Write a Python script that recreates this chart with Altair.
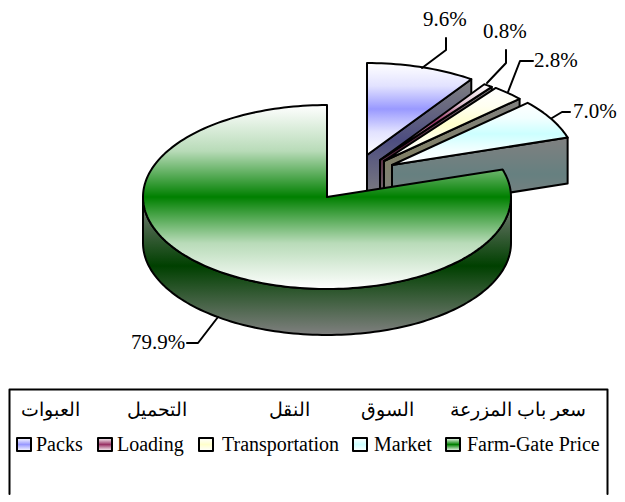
import math
import altair as alt
import pandas as pd

categories = ["Packs", "Loading", "Transportation", "Market", "Farm-Gate Price"]
arabic = ["العبوات", "التحميل", "النقل", "السوق", "سعر باب المزرعة"]
shares = [9.6, 0.8, 2.8, 7.0, 79.9]
colors = ["#9999FF", "#993366", "#FFFFCC", "#CCFFFF", "#008000"]
darks = ["#4D4D80", "#4D1933", "#808066", "#668080", "#004000"]

# Layout of the drawing, in page pixels
CX, CY, RX, RY, DEPTH = 327, 197, 184, 92, 46
apexes = [(367, 155), (380, 160), (384, 161), (392, 165), (CX, CY)]
leaders = [
    [(422, 68), (446, 50), (446, 38)],
    [(487, 83), (506, 63), (506, 50)],
    [(508, 92), (520, 61), (533, 61)],
    [(552, 118), (562, 112), (570, 112)],
    [(218, 317), (198, 343), (187, 343)],
]
label_pos = [(423, 26), (483, 38), (534, 67), (573, 118), (131, 349)]
legend_sym_x = [17, 98, 199, 353, 446]
legend_txt_x = [36, 117, 222, 374, 467]
arabic_x = [50, 157, 289, 387, 518]

W, H = 609, 486
FONT = "Liberation Serif"
xs = alt.Scale(domain=[8, 8 + W], nice=False, zero=False)
ys = alt.Scale(domain=[8 + H, 8], nice=False, zero=False)


def mix(edge, mid, t):
    e = [int(edge[k:k + 2], 16) for k in (1, 3, 5)]
    m = [int(mid[k:k + 2], 16) for k in (1, 3, 5)]
    return "#%02X%02X%02X" % tuple(round(a + (b - a) * t) for a, b in zip(e, m))


def grad(edge, mid, t=0.5):
    q = mix(edge, mid, t)
    return alt.LinearGradient(
        gradient="linear", x1=0, y1=0, x2=0, y2=1,
        stops=[alt.GradientStop(offset=0, color=edge),
               alt.GradientStop(offset=0.25, color=q),
               alt.GradientStop(offset=0.5, color=mid),
               alt.GradientStop(offset=0.75, color=q),
               alt.GradientStop(offset=1, color=edge)])


def rim(apex, deg, dy=0):
    a = math.radians(deg)
    return (apex[0] + RX * math.sin(a), apex[1] - RY * math.cos(a) + dy)


def frame(points):
    return pd.DataFrame([{"x": p[0], "y": p[1], "o": i} for i, p in enumerate(points)])


def poly(points, fill=None, sw=2):
    kw = {"fill": fill} if fill is not None else {}
    return alt.Chart(frame(points)).mark_line(
        stroke="black", strokeWidth=sw, strokeJoin="round", strokeCap="round", **kw
    ).encode(
        x=alt.X("x:Q", scale=xs, axis=None),
        y=alt.Y("y:Q", scale=ys, axis=None),
        order="o:Q",
    )


total = sum(shares)
layers = []
start = 0.0
for i, v in enumerate(shares):
    end = start + 360 * v / total
    ap = apexes[i]
    n = max(3, int((end - start) / 1.5))
    arc = [rim(ap, start + (end - start) * k / n) for k in range(n + 1)]
    if i < 4:
        e = rim(ap, end)
        side = [ap, e, (e[0], e[1] + DEPTH), (ap[0], ap[1] + DEPTH), ap]
    else:
        front = [rim(ap, 90 + 180 * k / 120) for k in range(121)]
        side = front + [(p[0], p[1] + DEPTH) for p in reversed(front)] + [front[0]]
    layers.append(poly(side, grad("#808080", darks[i])))
    layers.append(poly([ap] + arc + [ap], grad("#FFFFFF", colors[i], 0.28)))
    start = end

for pts in leaders:
    layers.append(poly(pts))

labels = pd.DataFrame({
    "t": [f"{v:.1f}%" for v in shares],
    "x": [p[0] for p in label_pos],
    "y": [p[1] for p in label_pos],
})
layers.append(alt.Chart(labels).mark_text(
    font=FONT, fontSize=21, align="left", baseline="alphabetic", color="black"
).encode(x=alt.X("x:Q", scale=xs, axis=None), y=alt.Y("y:Q", scale=ys, axis=None), text="t:N"))

# legend box (runs off the bottom of the picture)
layers.append(poly([(9.5, 8 + H), (9.5, 389.5), (607.5, 389.5), (607.5, 8 + H)]))

arabic_df = pd.DataFrame({"t": arabic, "x": arabic_x, "y": [416] * 5})
layers.append(alt.Chart(arabic_df).mark_text(
    font=FONT, fontSize=19, align="center", baseline="alphabetic", color="black"
).encode(x=alt.X("x:Q", scale=xs, axis=None), y=alt.Y("y:Q", scale=ys, axis=None), text="t:N"))

legend_df = pd.DataFrame({"t": categories, "x": legend_txt_x, "y": [451] * 5})
layers.append(alt.Chart(legend_df).mark_text(
    font=FONT, fontSize=20, align="left", baseline="alphabetic", color="black"
).encode(x=alt.X("x:Q", scale=xs, axis=None), y=alt.Y("y:Q", scale=ys, axis=None), text="t:N"))

for i, sx in enumerate(legend_sym_x):
    sq = [(sx, 438), (sx + 14, 438), (sx + 14, 451), (sx, 451), (sx, 438)]
    layers.append(poly(sq, grad("#FFFFFF", colors[i])))

chart = alt.layer(*layers).properties(width=W, height=H, padding=0).configure_view(stroke=None)
chart.save("out.html", embed_options={"renderer": "svg", "actions": False})
